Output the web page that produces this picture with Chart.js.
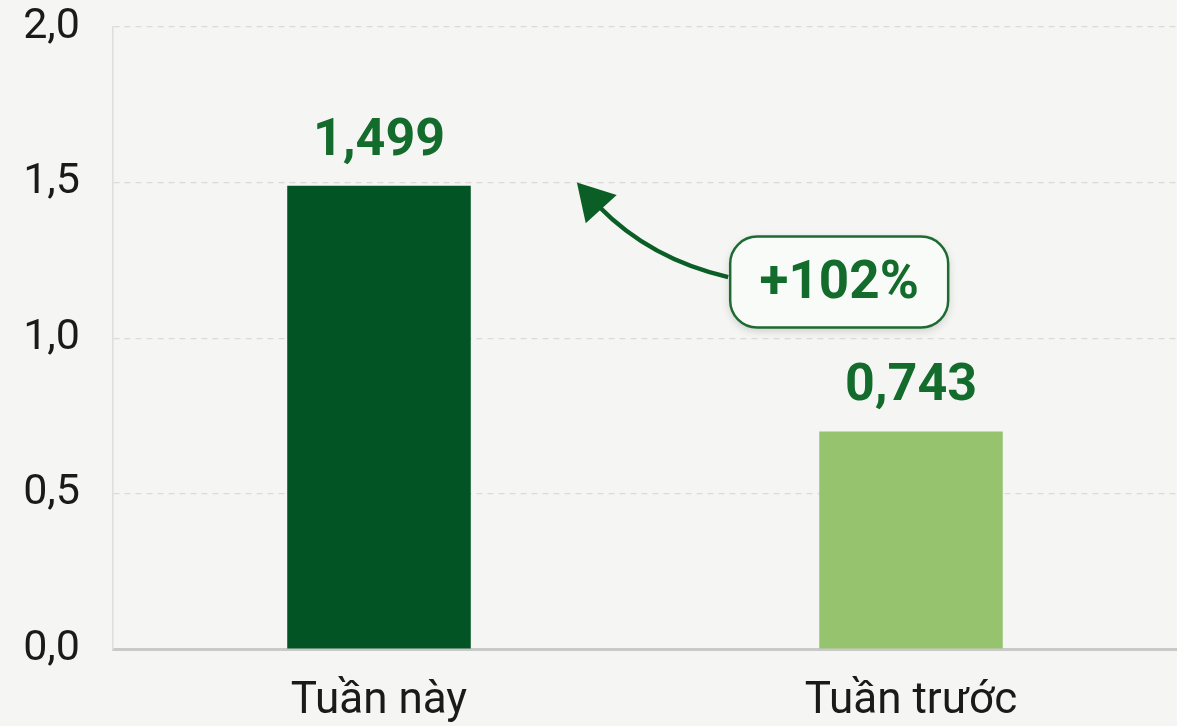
<!DOCTYPE html>
<html>
<head>
<meta charset="utf-8">
<script src="https://cdn.jsdelivr.net/npm/chart.js@4"></script>
<style>
    body { margin: 0; background: #f5f5f4; }
    #wrap { width: 1177px; height: 726px; position: relative; }
</style>
</head>
<body>
<div id="wrap"><canvas id="chart"></canvas></div>
<script>
let categories = ['Tuần này', 'Tuần trước'];
let values = [1.49, 0.70];
let valueLabels = ['1,499', '0,743'];
let barColors = ['#025424', '#96c46e'];
let yTicks = [0, 0.5, 1.0, 1.5, 2.0];

// note box and arrow, in data units (category index, y value)
let changeText = '+102%';
let arrowTip = {x: 0.372, y: 1.5};
let noteCenter = {x: 0.865, y: 1.18};

const green = '#136b2c';

let valueLabelPlugin = {
    id: 'valueLabels',
    afterDatasetsDraw(chart) {
        let ctx = chart.ctx;
        let meta = chart.getDatasetMeta(0);
        ctx.save();
        ctx.fillStyle = green;
        ctx.font = 'bold 52px Roboto';
        ctx.textAlign = 'center';
        ctx.textBaseline = 'alphabetic';
        meta.data.forEach((bar, i) => {
            ctx.fillText(valueLabels[i], bar.x, bar.y - 31);
        });
        ctx.restore();
    }
};

let notePlugin = {
    id: 'changeNote',
    afterDatasetsDraw(chart) {
        let ctx = chart.ctx;
        let xs = chart.scales.x;
        let ys = chart.scales.y;
        let tx = xs.getPixelForValue(arrowTip.x);
        let ty = ys.getPixelForValue(arrowTip.y);
        let cx = xs.getPixelForValue(noteCenter.x);
        let cy = ys.getPixelForValue(noteCenter.y);
        let w = 218, h = 91;
        let bx = cx - w / 2, by = cy - h / 2;

        // curved arrow from the box to the first bar
        let sx = bx - 2, sy = cy - 5;
        let ex = tx + 22, ey = ty + 24;
        let qx = sx - 78, qy = sy - 18;
        ctx.save();
        ctx.strokeStyle = '#0b5e25';
        ctx.fillStyle = '#0b5e25';
        ctx.lineWidth = 4.5;
        ctx.beginPath();
        ctx.moveTo(sx, sy);
        ctx.quadraticCurveTo(qx, qy, ex, ey);
        ctx.stroke();
        let ang = Math.atan2(ty - ey, tx - ex);
        let len = 36, half = 21;
        let baseX = tx - Math.cos(ang) * len, baseY = ty - Math.sin(ang) * len;
        ctx.beginPath();
        ctx.moveTo(tx, ty);
        ctx.lineTo(baseX + Math.sin(ang) * half, baseY - Math.cos(ang) * half);
        ctx.lineTo(baseX - Math.sin(ang) * half, baseY + Math.cos(ang) * half);
        ctx.closePath();
        ctx.fill();

        // rounded box
        ctx.shadowColor = 'rgba(0,0,0,0.18)';
        ctx.shadowBlur = 10;
        ctx.shadowOffsetY = 3;
        ctx.fillStyle = '#f9fbf8';
        ctx.beginPath();
        ctx.roundRect(bx, by, w, h, 27);
        ctx.fill();
        ctx.shadowColor = 'transparent';
        ctx.lineWidth = 2.5;
        ctx.strokeStyle = '#1d6b32';
        ctx.stroke();

        ctx.fillStyle = green;
        ctx.font = 'bold 53px Roboto';
        ctx.textAlign = 'center';
        ctx.textBaseline = 'middle';
        ctx.fillText(changeText, cx, cy + 3);
        ctx.restore();
    }
};

let ctx = document.getElementById('chart').getContext('2d');
let chart = new Chart(ctx, {
    type: 'bar',
    data: {
        labels: categories,
        datasets: [
            {
                data: values,
                backgroundColor: barColors,
                borderWidth: 0,
                barPercentage: 0.345,
                categoryPercentage: 1
            }
        ]
    },
    options: {
        responsive: true,
        maintainAspectRatio: false,
        animation: false,
        layout: {padding: {top: 27, right: 0, bottom: -20, left: 0}},
        plugins: {
            legend: {display: false},
            tooltip: {enabled: false}
        },
        scales: {
            x: {
                grid: {display: false},
                border: {display: true, color: '#c9c9c9', width: 3},
                ticks: {
                    color: '#1a1a1a',
                    font: {family: 'Roboto', size: 44},
                    padding: 18
                }
            },
            y: {
                min: 0,
                max: 2,
                afterBuildTicks(scale) {
                    scale.ticks = yTicks.map(v => ({value: v}));
                },
                afterFit(scale) {
                    scale.width = 113;
                    scale.paddingTop = 0;
                },
                grid: {
                    color: '#dadada',
                    lineWidth: 1.2,
                    drawTicks: false
                },
                border: {display: true, color: '#dedede', width: 1.5, dash: [6, 5]},
                ticks: {
                    color: '#1a1a1a',
                    font: {family: 'Roboto', size: 43},
                    padding: 33,
                    callback: v => v.toFixed(1).replace('.', ',')
                }
            }
        }
    },
    plugins: [valueLabelPlugin, notePlugin]
});
</script>
</body>
</html>
